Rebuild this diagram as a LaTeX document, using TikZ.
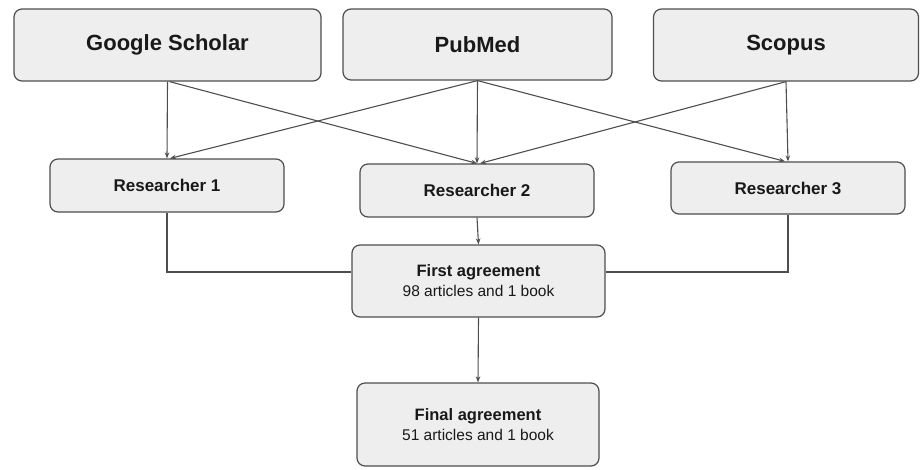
\documentclass[tikz,border=0pt]{standalone}
\usepackage{fontspec}
\setmainfont{Liberation Sans}
\usetikzlibrary{arrows.meta,calc}
\definecolor{boxfill}{HTML}{EEEEEE}
\definecolor{edge}{HTML}{4E4E4E}
\begin{document}
\begin{tikzpicture}[x=1pt,y=-1pt,
  box/.style={draw=edge,line width=1.2pt,fill=boxfill,rounded corners=8pt,
    rectangle,inner sep=0pt,align=center,text=black!90},
  big/.style={box,font=\fontsize{22}{26}\selectfont\bfseries},
  mid/.style={box,font=\fontsize{17}{20}\selectfont\bfseries},
  two/.style={box,font=\fontsize{15.5}{20}\selectfont},
  conn/.style={draw=edge,line width=1.1pt},
  arr/.style={conn,-{Stealth[length=6pt,width=4.5pt]}}]
\useasboundingbox (0,0) rectangle (920,469);
\node[big,minimum width=307pt,minimum height=72pt] (gs) at (167.5,45) {Google Scholar};
\node[big,minimum width=269pt,minimum height=71pt] (pm) at (477.5,44.5) {PubMed};
\node[big,minimum width=265pt,minimum height=72pt] (sc) at (786,45) {Scopus};
\node[mid,minimum width=234pt,minimum height=53pt] (r1) at (167,185.5) {Researcher 1};
\node[mid,minimum width=234pt,minimum height=53pt] (r2) at (477,190.5) {Researcher 2};
\node[mid,minimum width=234pt,minimum height=52pt] (r3) at (788,188) {Researcher 3};
\node[two,minimum width=253pt,minimum height=72pt] (fa) at (478.5,281)
  {{\fontsize{16.5}{20}\selectfont\bfseries First agreement}\\
   98 articles and 1 book};
\node[two,minimum width=242pt,minimum height=83pt] (fn) at (478,424.5)
  {{\fontsize{16.5}{20}\selectfont\bfseries Final agreement}\\
   51 articles and 1 book};
% source to researcher connectors
\draw[arr] (gs.south) -- (r1.north);
\draw[arr] ([xshift=2pt]gs.south) -- (r2.north);
\draw[arr] (pm.south) -- ([xshift=3pt]r1.north);
\draw[arr] (pm.south) -- (r2.north);
\draw[arr] (pm.south) -- ([xshift=-3pt]r3.north);
\draw[arr] (sc.south) -- ([xshift=3pt]r2.north);
\draw[arr] (sc.south) -- (r3.north);
% researchers to first agreement
\draw[arr] (r2.south) -- (fa.north);
\draw[conn] (r1.south) |- ([yshift=9pt]fa.west);
\draw[conn] (r3.south) |- ([yshift=9pt]fa.east);
\draw[arr] (fa.south) -- (fn.north);
\end{tikzpicture}
\end{document}
